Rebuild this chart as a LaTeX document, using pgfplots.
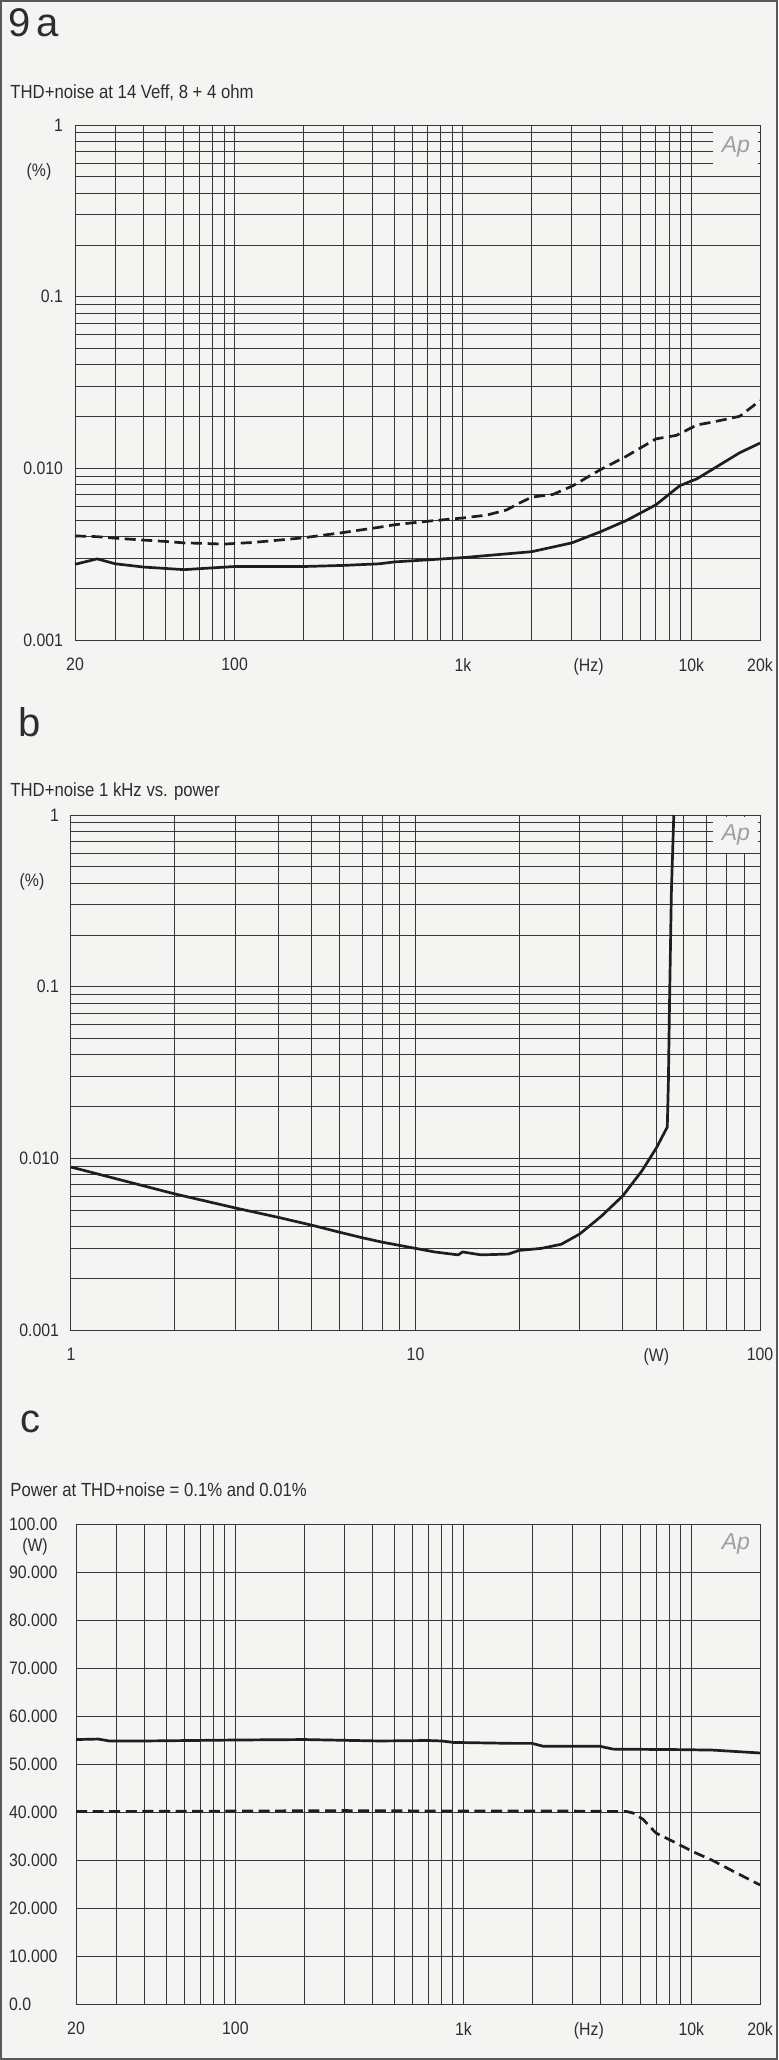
\documentclass[border=0pt]{standalone}
\usepackage{fontspec}
\setmainfont{Liberation Sans}
\newfontfamily\cond{Liberation Sans}[FakeStretch=0.88]
\usepackage{pgfplots}
\pgfplotsset{compat=1.18}

\definecolor{bgc}{RGB}{244,244,242}
\definecolor{gridc}{RGB}{55,55,55}
\definecolor{inkc}{RGB}{30,30,30}
\definecolor{txtc}{RGB}{45,45,45}

\tikzset{
  ekline/.style={inkc, line width=1.35pt, line join=round},
  ekdash/.style={ekline, dash pattern=on 5.5pt off 2.8pt},
  eklogo/.style={anchor=north east, fill=bgc, inner sep=0pt,
    minimum width=22.5pt, text=gray!75, font=\fontsize{11.5}{11.5}\selectfont\itshape},
  ekunit/.style={font=\cond\fontsize{9}{10}\selectfont, text=txtc},
  ektitle/.style={anchor=base west, inner sep=0pt, text=txtc,
    font=\cond\fontsize{9.5}{11}\selectfont},
  ekpanel/.style={anchor=base west, inner sep=0pt, text=txtc,
    font=\fontsize{20}{20}\selectfont},
}

\begin{document}
\begin{tikzpicture}
\fill[bgc] (0,0) rectangle (389pt,-1030pt);
\draw[gray!70!black, line width=1pt] (0.5pt,-0.5pt) rectangle (388.5pt,-1029.5pt);
\path[use as bounding box] (0,0) rectangle (389pt,-1030pt);

% panel a
\node[ekpanel] at (4pt,-18.5pt) {9\hspace{0.15em}a};
\node[ektitle] at (5pt,-49.5pt) {THD+noise at 14 Veff, 8 + 4 ohm};
\begin{axis}[
  scale only axis, clip=false,
  at={(37.5pt,-320pt)}, anchor=south west,
  width=342.5pt, height=257.5pt,
  axis line style={gridc, line width=0.5pt},
  grid=both,
  major grid style={gridc, line width=0.5pt},
  minor grid style={gridc, line width=0.5pt},
  major tick length=0pt, minor tick length=0pt,
  ticklabel style={font=\cond\fontsize{9}{10}\selectfont, text=txtc},
  xticklabel shift=5.5pt, yticklabel shift=2.5pt,
  xmode=log, xmin=20, xmax=20000,
  xtick={20,100,1000,10000,20000},
  xticklabels={20,100,1k,10k,20k},
  minor xtick={30,40,50,60,70,80,90,200,300,400,500,600,700,800,900,
               2000,3000,4000,5000,6000,7000,8000,9000},
  ymode=log, ymin=0.001, ymax=1,
  ytick={0.001,0.01,0.1,1},
  yticklabels={0.001,0.010,0.1,1},
  minor ytick={0.002,0.003,0.004,0.005,0.006,0.007,0.008,0.009,
               0.02,0.03,0.04,0.05,0.06,0.07,0.08,0.09,
               0.2,0.3,0.4,0.5,0.6,0.7,0.8,0.9}]
\addplot[ekdash] coordinates {
  (20,0.00404) (25,0.00400) (30,0.00392) (40,0.00382) (50,0.00375)
  (60,0.00368) (70,0.00366) (90,0.00362) (120,0.00370) (150,0.00380)
  (200,0.00394) (300,0.00423) (431,0.00454) (500,0.00469) (691,0.00491)
  (1000,0.00514) (1270,0.00534) (1550,0.00572) (1770,0.00628) (2000,0.00680)
  (2480,0.00705) (3030,0.00792) (3970,0.00977) (5200,0.01177) (7000,0.01485)
  (8600,0.01556) (10600,0.0179) (12400,0.0186) (16300,0.0201) (20000,0.0248)
};
\addplot[ekline] coordinates {
  (20,0.00276) (25,0.00297) (30,0.00278) (40,0.00266) (60,0.00257)
  (100,0.00268) (200,0.00268) (300,0.00272) (431,0.00278) (500,0.00285)
  (1000,0.00302) (2000,0.00327) (3000,0.00368) (4000,0.00427) (5200,0.00497)
  (7000,0.00613) (8900,0.00792) (10600,0.00870) (16300,0.01233) (20000,0.01403)
};
\node[eklogo, minimum height=20pt] at ([xshift=-0.6pt,yshift=-0.6pt]rel axis cs:1,1) {Ap};
\node[ekunit] at ([xshift=-18pt]axis cs:20,0.53) {(\%)};
\node[ekunit, anchor=north] at ([yshift=-5.5pt]axis cs:3550,0.001) {(Hz)};
\end{axis}

% panel b
\node[ekpanel] at (9pt,-368pt) {b};
\node[ektitle] at (5pt,-398pt) {THD+noise 1 kHz vs. power};
\begin{axis}[
  scale only axis, clip=false,
  at={(35.5pt,-665pt)}, anchor=south west,
  width=344.5pt, height=257.5pt,
  axis line style={gridc, line width=0.5pt},
  grid=both,
  major grid style={gridc, line width=0.5pt},
  minor grid style={gridc, line width=0.5pt},
  major tick length=0pt, minor tick length=0pt,
  ticklabel style={font=\cond\fontsize{9}{10}\selectfont, text=txtc},
  xticklabel shift=5.5pt, yticklabel shift=2.5pt,
  xmode=log, xmin=1, xmax=100,
  xtick={1,10,100}, xticklabels={1,10,100},
  minor xtick={2,3,4,5,6,7,8,9,20,30,40,50,60,70,80,90},
  ymode=log, ymin=0.001, ymax=1,
  ytick={0.001,0.01,0.1,1},
  yticklabels={0.001,0.010,0.1,1},
  minor ytick={0.002,0.003,0.004,0.005,0.006,0.007,0.008,0.009,
               0.02,0.03,0.04,0.05,0.06,0.07,0.08,0.09,
               0.2,0.3,0.4,0.5,0.6,0.7,0.8,0.9}]
\addplot[ekline] coordinates {
  (1,0.00890) (1.515,0.00717) (2,0.00621) (3,0.00514) (4,0.00453)
  (5,0.00408) (6,0.00372) (7,0.00345) (8,0.00325) (9,0.00311)
  (10,0.00299) (11.36,0.00285) (13.3,0.00274) (13.7,0.00285) (15.5,0.00274)
  (18.6,0.00277) (20,0.00291) (23.2,0.00299) (26.5,0.00316) (30,0.00363)
  (34.7,0.00462) (40,0.00606) (45.4,0.00845) (50,0.01148) (53.8,0.01521)
  (54.2,0.0274) (54.6,0.0762) (55.3,0.354) (56.2,1.0)
};
\node[eklogo, minimum height=18pt] at ([xshift=-0.6pt,yshift=-0.6pt]rel axis cs:1,1) {Ap};
\node[ekunit] at ([xshift=-19.5pt]axis cs:1,0.41) {(\%)};
\node[ekunit, anchor=north] at ([yshift=-5.5pt]axis cs:50,0.001) {(W)};
\end{axis}

% panel c
\node[ekpanel] at (10pt,-716pt) {c};
\node[ektitle] at (5pt,-748pt) {Power at THD+noise = 0.1\% and 0.01\%};
\begin{axis}[
  scale only axis, clip=false,
  at={(38pt,-1002pt)}, anchor=south west,
  width=342pt, height=240pt,
  axis line style={gridc, line width=0.5pt},
  grid=both,
  major grid style={gridc, line width=0.5pt},
  minor grid style={gridc, line width=0.5pt},
  major tick length=0pt, minor tick length=0pt,
  ticklabel style={font=\cond\fontsize{9}{10}\selectfont, text=txtc},
  xticklabel shift=5.5pt, yticklabel shift=0pt,
  yticklabel style={anchor=west, xshift=-37pt},
  xmode=log, xmin=20, xmax=20000,
  xtick={20,100,1000,10000,20000},
  xticklabels={20,100,1k,10k,20k},
  minor xtick={30,40,50,60,70,80,90,200,300,400,500,600,700,800,900,
               2000,3000,4000,5000,6000,7000,8000,9000},
  ymin=0, ymax=100,
  ytick={0,10,20,30,40,50,60,70,80,90,100},
  yticklabels={0.0,10.000,20.000,30.000,40.000,50.000,60.000,70.000,80.000,90.000,100.00}]
\addplot[ekline] coordinates {
  (20,55.1) (25,55.2) (28,54.8) (40,54.8) (100,55.0) (200,55.1) (431,54.8)
  (700,54.9) (804,54.8) (904,54.5) (1660,54.3) (2000,54.3) (2240,53.7)
  (3970,53.7) (4540,53.1) (8900,53.0) (12400,52.9) (20000,52.3)
};
\addplot[ekdash] coordinates {
  (20,40.1) (100,40.2) (300,40.3) (1000,40.2) (3000,40.2) (5200,40.1)
  (5550,39.8) (6130,38.5) (7000,35.6) (8050,34.2) (10200,31.7)
  (12400,29.9) (15200,27.7) (20000,24.8)
};
\node[eklogo, minimum height=18pt] at ([xshift=-0.6pt,yshift=-0.6pt]rel axis cs:1,1) {Ap};
\node[ekunit] at ([xshift=-20.5pt]rel axis cs:0,0.953) {(W)};
\node[ekunit, anchor=north] at ([yshift=-5.5pt]axis cs:3550,0) {(Hz)};
\end{axis}
\end{tikzpicture}
\end{document}
